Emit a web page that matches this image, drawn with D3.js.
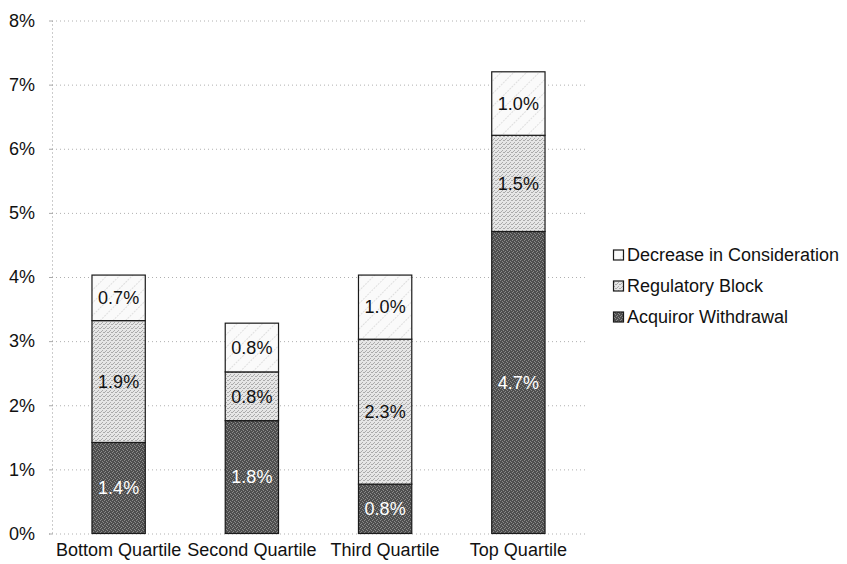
<!DOCTYPE html>
<html><head><meta charset="utf-8">
<script src="https://cdn.jsdelivr.net/npm/d3@7"></script>
<style>body{margin:0;background:#fff;}svg{display:block;font-family:"Liberation Sans",Arial,sans-serif;}</style>
</head><body>
<svg id="c" width="847" height="564"></svg>
<script>
const categories = ["Bottom Quartile","Second Quartile","Third Quartile","Top Quartile"];
const seriesNames = ["Acquiror Withdrawal","Regulatory Block","Decrease in Consideration"];
const acquirorWithdrawal = [1.42, 1.76, 0.77, 4.71];
const regulatoryBlock = [1.90, 0.76, 2.26, 1.50];
const decreaseInConsideration = [0.71, 0.76, 1.00, 0.99];
const yTicks = [0,1,2,3,4,5,6,7,8];

const svg = d3.select("#c");
const defs = svg.append("defs");
// textures
const pDark = defs.append("pattern").attr("id","pDark").attr("patternUnits","userSpaceOnUse").attr("width",4).attr("height",4);
pDark.append("rect").attr("width",4).attr("height",4).attr("fill","#4e4e4e");
[[0,0],[2,1],[1,3],[3,2]].forEach(([x,y])=>pDark.append("rect").attr("x",x).attr("y",y).attr("width",1).attr("height",1).attr("fill","#8a8a8a"));
const pLight = defs.append("pattern").attr("id","pLight").attr("patternUnits","userSpaceOnUse").attr("width",4).attr("height",4);
pLight.append("rect").attr("width",4).attr("height",4).attr("fill","#e6e6e6");
[[0,0],[2,2],[3,0],[1,3]].forEach(([x,y])=>pLight.append("rect").attr("x",x).attr("y",y).attr("width",1).attr("height",1).attr("fill","#ababab"));
const pHatch = defs.append("pattern").attr("id","pHatch").attr("patternUnits","userSpaceOnUse").attr("width",9).attr("height",9).attr("patternTransform","rotate(-45)");
pHatch.append("rect").attr("width",9).attr("height",9).attr("fill","#fafafa");
pHatch.append("line").attr("x1",0).attr("y1",0).attr("x2",9).attr("y2",0).attr("stroke","#c4c4c4").attr("stroke-width",1.2).attr("stroke-dasharray","2,1");
const fills = ["url(#pDark)","url(#pLight)","url(#pHatch)"];
const labelColors = ["#fff","#111","#111"];

const x = d3.scaleBand().domain(categories).range([52,585]).paddingInner(0.6).paddingOuter(0.3);
const y = d3.scaleLinear().domain([0,8]).range([533.5,20.5]);

// gridlines
svg.append("g").attr("transform","translate(52,0)")
  .call(d3.axisLeft(y).tickValues(yTicks).tickSize(-533).tickFormat(""))
  .call(g=>g.select(".domain").remove())
  .call(g=>g.selectAll(".tick line").attr("stroke","#b0b0b0").attr("stroke-dasharray","1,3"));

// y axis
svg.append("g").attr("transform","translate(52,0)")
  .call(d3.axisLeft(y).tickValues(yTicks).tickSize(3).tickPadding(14).tickFormat(d=>d+"%"))
  .call(g=>g.select(".domain").attr("stroke","#999").attr("stroke-dasharray","1,3"))
  .call(g=>g.selectAll(".tick line").attr("stroke","#aaa"))
  .call(g=>g.selectAll("text").attr("font-size",18).attr("fill","#111").attr("font-family","'Liberation Sans',Arial,sans-serif"));

// stacked data
const rows = categories.map((c,i)=>({cat:c, v:[acquirorWithdrawal[i],regulatoryBlock[i],decreaseInConsideration[i]]}));
const keys = [0,1,2];
const stack = d3.stack().keys(keys).value((d,k)=>d.v[k]);
const layers = stack(rows);

const g = svg.append("g");
layers.forEach((layer,k)=>{
  g.selectAll(null).data(layer).enter().append("rect")
    .attr("x",d=>x(d.data.cat)).attr("width",x.bandwidth())
    .attr("y",d=>y(d[1])).attr("height",d=>y(d[0])-y(d[1]))
    .attr("fill",fills[k]).attr("stroke","#1a1a1a").attr("stroke-width",1.2);
});
layers.forEach((layer,k)=>{
  g.selectAll(null).data(layer).enter().append("text")
    .attr("x",d=>x(d.data.cat)+x.bandwidth()/2)
    .attr("y",d=>(y(d[0])+y(d[1]))/2)
    .attr("dy","0.35em").attr("text-anchor","middle").attr("font-size",18)
    .attr("fill",labelColors[k])
    .text(d=>d3.format(".1f")(d.data.v[k])+"%");
});

// x labels
svg.append("g").selectAll("text").data(categories).enter().append("text")
  .attr("x",d=>x(d)+x.bandwidth()/2).attr("y",556)
  .attr("text-anchor","middle").attr("font-size",18).attr("fill","#111").text(d=>d);

// legend
const legendOrder = [2,1,0];
const lg = svg.append("g");
legendOrder.forEach((k,i)=>{
  const cy = 255 + i*31;
  lg.append("rect").attr("x",613.5).attr("y",cy-5).attr("width",10).attr("height",10)
    .attr("fill",fills[k]).attr("stroke","#1a1a1a").attr("stroke-width",1.2);
  lg.append("text").attr("x",627).attr("y",cy).attr("dy","0.35em").attr("font-size",18).attr("fill","#111").text(seriesNames[k]);
});
</script>
</body></html>
